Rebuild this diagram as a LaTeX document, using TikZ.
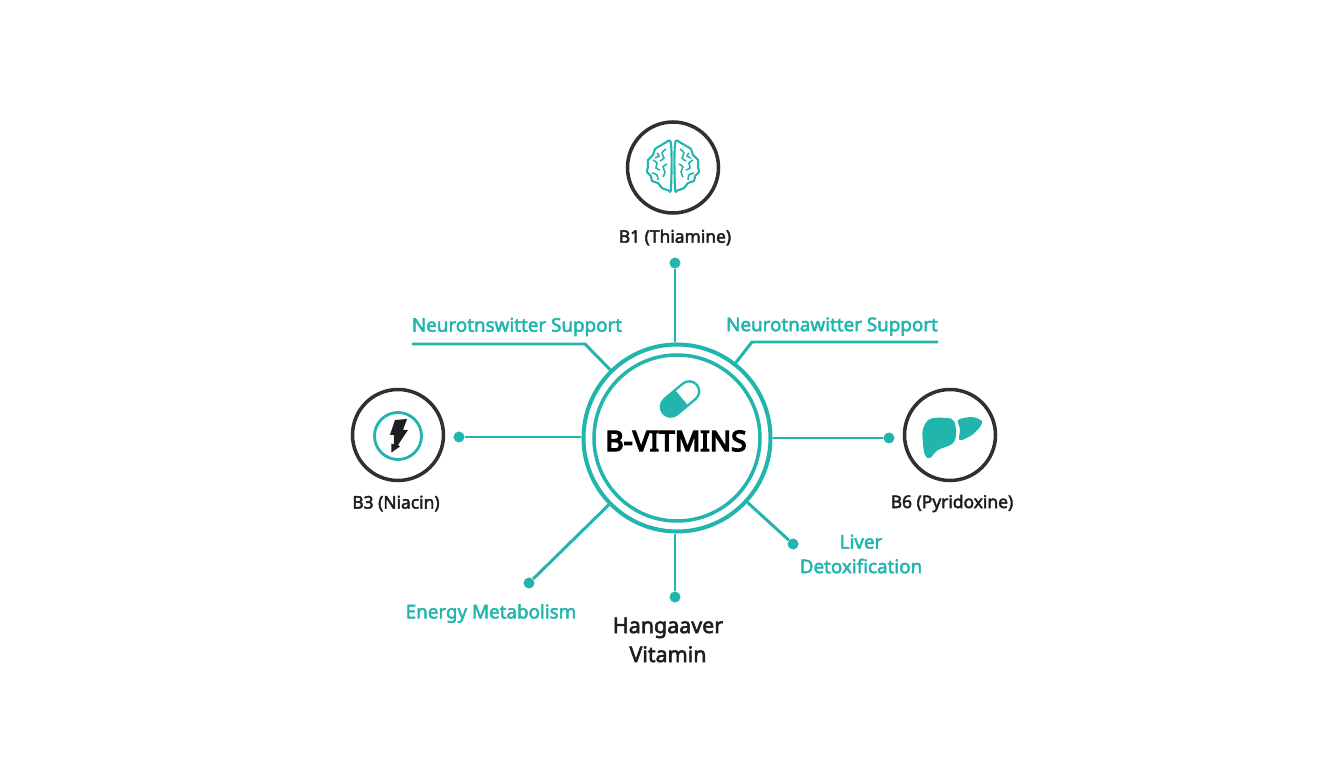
\documentclass[tikz,border=0pt]{standalone}
\usepackage{fontspec}
\usepackage{tikz}
\setmainfont{Open Sans}
\newfontfamily\medfont[FakeBold=2.6]{Noto Sans}
\newfontfamily\heavyfont[FakeBold=5]{Noto Sans}
\definecolor{vitteal}{HTML}{22B5AD}
\definecolor{vitdark}{HTML}{1E1E20}

\tikzset{
  teallabel/.style={text=vitteal, font=\medfont\fontsize{10.7}{14}\selectfont, align=center},
  darklabel/.style={text=vitdark, font=\medfont\fontsize{9.9}{12}\selectfont},
  iconring/.style={draw=vitdark!92, line width=2pt, shape=circle, minimum size=1.82cm, inner sep=0pt},
  tealdot/.style={fill=vitteal, shape=circle, minimum size=0.22cm, inner sep=0pt},
  spoke/.style={draw=vitteal, line width=1.7pt}
}

\newcommand{\brainlobe}{
  \draw[vitteal, line width=1.2pt, line join=round]
    plot[smooth cycle, tension=0.6] coordinates {(2,23) (8,24) (13,21) (18,18) (20,12) (25,7) (25,0) (26,-5) (22,-9) (21,-14) (15,-16) (11,-21) (5,-23) (2,-21)};
  \draw[vitteal, line width=0.9pt] plot[smooth] coordinates {(7,18) (11,14) (9,9) (13,6)};
  \draw[vitteal, line width=0.9pt] plot[smooth] coordinates {(20,7) (16,4) (17,-1) (13,-3)};
  \draw[vitteal, line width=0.9pt] plot[smooth] coordinates {(6,3) (10,0) (8,-5) (10,-10)};
  \draw[vitteal, line width=0.9pt] plot[smooth] coordinates {(21,-6) (16,-8) (15,-13)};
  \draw[vitteal, line width=0.9pt] plot[smooth] coordinates {(16,14) (14,11) (18,9)};
}

\begin{document}
\begin{tikzpicture}
\useasboundingbox (-13.44,-7.68) rectangle (13.44,7.68);

% centre rings
\node[draw=vitteal, line width=2.3pt, shape=circle, minimum size=3.74cm, inner sep=0pt] (ring) at (0.10,-1.08) {};
\node[draw=vitteal, line width=2pt, shape=circle, minimum size=3.32cm, inner sep=0pt] (innerring) at (0.10,-1.08) {};
\node[text=black, font=\heavyfont\fontsize{16}{18}\selectfont] (title) at (0.08,-1.14) {B-VITMINS};

% pill
\begin{scope}[shift={(0.16,-0.30)}, rotate=40]
  \fill[vitteal] (0.04,-0.20) -- (-0.24,-0.20) arc (270:90:0.20) -- (0.04,0.20) -- cycle;
  \draw[vitteal, line width=1.3pt, line join=round] (-0.24,-0.20) arc (270:90:0.20) -- (0.24,0.20) arc (90:-90:0.20) -- cycle;
\end{scope}

% vitamin icons
\node[iconring] (b1) at (0.02,4.33) {};
\node[iconring] (b3) at (-5.48,-1.02) {};
\node[iconring] (b6) at (5.56,-1.02) {};
\node[draw=vitteal, line width=1.6pt, shape=circle, minimum size=0.94cm, inner sep=0pt] (b3inner) at (-5.48,-1.04) {};

% brain
\begin{scope}[shift={(0.02,4.34)}, scale=0.02]
  \brainlobe
  \begin{scope}[xscale=-1]
    \brainlobe
  \end{scope}
\end{scope}

% bolt
\begin{scope}[shift={(-5.48,-1.04)}, scale=0.02]
  \fill[vitdark] (-3,16) -- (9,17) -- (5,6) -- (10,6) -- (0,-9) -- (2,-10.5) -- (-6.5,-16.5) -- (-6.5,-7.5) -- (-4,-8.5) -- (-4,1) -- (-8,1) -- cycle;
\end{scope}

% liver
\begin{scope}[shift={(5.56,-1.02)}, scale=0.02]
  \fill[vitteal] plot[smooth cycle, tension=0.6] coordinates {(-27,6) (-20,16) (-4,17) (4,14) (6,0) (2,-9) (-12,-15) (-20,-23) (-25,-20) (-27,-8)};
  \fill[vitteal] plot[smooth cycle, tension=0.45] coordinates {(8,15) (22,18) (32,14) (30,8) (22,0) (12,-5) (9,-4) (10,6)};
\end{scope}

% dots at the ends of the spokes
\node[tealdot] (dottop) at (0.06,2.42) {};
\node[tealdot] (dotleft) at (-4.26,-1.06) {};
\node[tealdot] (dotright) at (4.34,-1.08) {};
\node[tealdot] (dotbottom) at (0.06,-4.26) {};
\node[tealdot] (dotlowleft) at (-2.86,-3.98) {};
\node[tealdot] (dotlowright) at (2.42,-3.20) {};

\path[spoke] (dottop) edge (dottop |- ring.north);
\path[spoke] (dotleft) edge (dotleft -| ring.west);
\path[spoke] (dotright) edge (dotright -| ring.east);
\path[spoke] (dotbottom) edge (dotbottom |- ring.south);
\path[spoke] (dotlowleft) edge (ring);
\path[spoke] (dotlowright) edge (ring);

% leaders under the support labels
\coordinate (leadL1) at (-5.20,0.80);
\coordinate (leadL2) at (-1.74,0.80);
\coordinate (leadR1) at (5.32,0.84);
\coordinate (leadR2) at (1.60,0.84);
\draw[spoke] (leadL1) -- (leadL2) -- (ring);
\draw[spoke] (leadR1) -- (leadR2) -- (ring);

% labels
\node[darklabel] (lblb1) at (0.06,2.93) {B1 (Thiamine)};
\node[darklabel] (lblb3) at (-5.52,-2.39) {B3 (Niacin)};
\node[darklabel] (lblb6) at (5.60,-2.39) {B6 (Pyridoxine)};
\node[teallabel] (lblnl) at (-3.10,1.14) {Neurotnswitter Support};
\node[teallabel] (lblnr) at (3.20,1.15) {Neurotnawitter Support};
\node[teallabel] (lblenergy) at (-3.62,-4.59) {Energy Metabolism};
\node[teallabel] (lblliver) at (3.78,-3.40) {Liver\\Detoxification};
\node[text=vitdark, font=\medfont\fontsize{12.2}{16.5}\selectfont, align=center] (lblhang) at (-0.08,-5.12) {Hangaaver\\Vitamin};

\end{tikzpicture}
\end{document}
